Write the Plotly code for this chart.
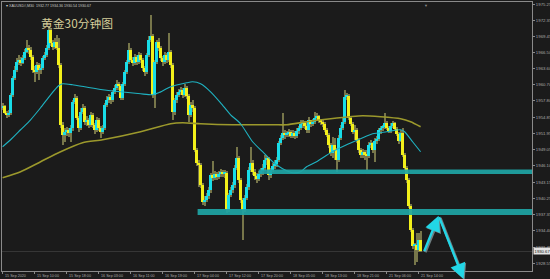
import plotly.graph_objects as go

# ---------------- data ----------------
first_open = 1956.56
closes = [
    1956.92, 1955.66, 1955.30, 1955.66, 1958.90, 1961.96, 1963.40, 1964.84, 1965.20, 1964.66,
    1965.56, 1966.64, 1967.36, 1967.00, 1965.74, 1963.40, 1963.04, 1964.30, 1963.40, 1963.76,
    1965.56, 1966.10, 1967.36, 1970.60, 1968.26, 1967.54, 1968.44, 1967.36, 1964.30, 1953.50,
    1951.70, 1952.24, 1952.60, 1952.06, 1952.96, 1957.64, 1958.36, 1954.76, 1952.96, 1955.84,
    1956.56, 1954.04, 1954.40, 1953.50, 1955.30, 1953.50, 1952.60, 1954.40, 1952.96, 1952.24,
    1952.96, 1957.10, 1958.00, 1958.54, 1958.00, 1959.44, 1960.16, 1960.88, 1960.52, 1958.36,
    1960.88, 1963.04, 1964.84, 1967.00, 1965.20, 1964.66, 1965.74, 1964.84, 1966.10, 1965.20,
    1963.76, 1963.04, 1966.10, 1968.80, 1969.52, 1958.90, 1964.84, 1968.44, 1967.36, 1965.56,
    1964.84, 1966.10, 1965.20, 1966.64, 1964.30, 1955.84, 1958.00, 1958.90, 1959.44, 1959.80,
    1958.90, 1960.16, 1958.72, 1955.30, 1957.10, 1956.56, 1949.00, 1946.66, 1946.30, 1942.70,
    1939.64, 1940.00, 1940.72, 1941.80, 1944.50, 1943.96, 1944.68, 1944.14, 1944.68, 1945.04,
    1944.68, 1944.86, 1938.38, 1940.90, 1941.80, 1942.70, 1945.76, 1947.56, 1943.60, 1940.00,
    1938.20, 1940.36, 1942.34, 1945.40, 1946.66, 1945.04, 1944.32, 1943.78, 1944.68, 1945.22,
    1945.76, 1947.20, 1947.56, 1944.50, 1945.40, 1946.12, 1946.48, 1947.20, 1950.26, 1951.16,
    1952.06, 1951.70, 1951.88, 1952.24, 1951.52, 1952.06, 1951.52, 1952.42, 1952.96, 1953.68,
    1953.86, 1953.32, 1952.60, 1954.40, 1953.68, 1954.04, 1954.76, 1955.12, 1954.22, 1954.04,
    1953.68, 1952.60, 1951.70, 1949.90, 1948.46, 1949.90, 1949.00, 1947.20, 1951.16, 1952.96,
    1954.04, 1958.54, 1958.72, 1954.76, 1953.68, 1952.24, 1952.60, 1950.80, 1949.00, 1948.10,
    1948.64, 1948.10, 1947.92, 1949.90, 1950.26, 1949.00, 1950.62, 1950.98, 1952.60, 1952.96,
    1953.14, 1953.86, 1952.96, 1952.42, 1953.32, 1953.86, 1952.78, 1951.88, 1950.62, 1952.06,
    1948.10, 1945.76, 1943.60, 1938.92, 1934.60, 1931.72, 1931.90, 1931.00, 1932.77, 1930.67,
]
highs = [
    1957.46, 1957.10, 1956.02, 1956.20, 1959.26, 1962.32, 1964.12, 1965.56, 1966.10, 1965.74,
    1966.10, 1967.18, 1968.80, 1967.90, 1967.54, 1966.10, 1964.12, 1964.84, 1964.66, 1964.48,
    1965.92, 1966.64, 1967.90, 1971.14, 1970.78, 1968.80, 1969.16, 1969.70, 1969.16, 1964.66,
    1954.04, 1952.96, 1953.14, 1952.96, 1953.50, 1958.00, 1959.08, 1958.72, 1955.12, 1956.56,
    1957.28, 1956.92, 1955.12, 1954.76, 1955.84, 1955.66, 1953.86, 1954.94, 1954.76, 1953.32,
    1953.50, 1957.46, 1958.72, 1959.08, 1958.90, 1959.80, 1960.70, 1961.60, 1961.24, 1960.88,
    1961.24, 1963.40, 1965.20, 1968.26, 1967.36, 1965.74, 1966.28, 1966.10, 1966.64, 1966.46,
    1965.56, 1964.12, 1966.46, 1969.52, 1973.30, 1969.88, 1965.20, 1968.80, 1969.16, 1967.72,
    1965.92, 1966.64, 1966.46, 1970.06, 1967.00, 1964.66, 1958.36, 1959.44, 1959.98, 1960.34,
    1960.16, 1960.88, 1960.52, 1959.08, 1957.64, 1958.00, 1956.92, 1949.36, 1947.20, 1946.66,
    1943.06, 1940.72, 1941.26, 1942.34, 1944.86, 1947.02, 1945.22, 1945.04, 1945.22, 1945.58,
    1945.40, 1945.40, 1945.22, 1941.26, 1942.34, 1943.24, 1946.30, 1949.54, 1947.92, 1943.96,
    1940.36, 1940.90, 1942.88, 1945.94, 1949.54, 1947.20, 1945.58, 1944.86, 1945.22, 1945.76,
    1946.48, 1948.10, 1947.92, 1947.74, 1945.76, 1946.66, 1947.20, 1947.74, 1950.62, 1951.70,
    1955.66, 1952.60, 1952.42, 1952.78, 1952.60, 1952.60, 1952.42, 1952.96, 1953.32, 1954.40,
    1954.40, 1954.22, 1954.04, 1954.94, 1954.40, 1954.58, 1955.84, 1955.66, 1955.30, 1954.58,
    1954.40, 1954.04, 1952.96, 1952.06, 1950.26, 1951.34, 1951.16, 1949.36, 1951.70, 1953.50,
    1954.94, 1959.80, 1959.26, 1959.08, 1955.12, 1954.04, 1953.50, 1952.96, 1951.16, 1949.36,
    1949.18, 1949.00, 1949.00, 1950.44, 1950.80, 1950.44, 1951.16, 1951.52, 1952.96, 1953.32,
    1953.50, 1955.66, 1954.22, 1953.32, 1953.86, 1954.22, 1954.04, 1953.14, 1952.24, 1952.60,
    1952.96, 1948.46, 1946.12, 1943.96, 1939.28, 1934.96, 1932.26, 1934.06, 1934.06, 1934.36,
]
lows = [
    1956.20, 1955.48, 1954.76, 1954.94, 1955.30, 1958.54, 1961.60, 1963.04, 1964.30, 1964.12,
    1964.48, 1965.20, 1966.46, 1966.28, 1965.20, 1962.86, 1961.24, 1962.68, 1961.60, 1962.68,
    1963.40, 1965.20, 1965.74, 1967.00, 1967.72, 1967.00, 1967.18, 1967.00, 1963.76, 1952.96,
    1949.90, 1950.44, 1951.52, 1951.34, 1950.44, 1952.42, 1957.28, 1954.40, 1952.24, 1952.60,
    1955.48, 1953.50, 1953.32, 1952.96, 1953.14, 1952.96, 1951.88, 1952.24, 1952.42, 1951.16,
    1951.88, 1952.60, 1956.74, 1957.46, 1957.28, 1957.64, 1959.08, 1959.80, 1959.80, 1958.00,
    1958.00, 1960.52, 1962.68, 1964.48, 1964.84, 1964.12, 1964.30, 1964.30, 1964.48, 1964.66,
    1963.22, 1962.32, 1962.68, 1965.74, 1968.44, 1958.36, 1956.56, 1964.48, 1966.82, 1965.02,
    1964.12, 1964.48, 1964.66, 1964.84, 1963.76, 1954.40, 1955.30, 1957.46, 1958.54, 1958.90,
    1958.36, 1958.54, 1958.18, 1954.04, 1954.94, 1955.84, 1948.64, 1946.12, 1942.34, 1942.16,
    1939.10, 1938.92, 1939.64, 1940.18, 1941.26, 1943.42, 1943.60, 1943.60, 1943.78, 1944.14,
    1944.14, 1943.96, 1937.66, 1937.84, 1940.54, 1941.26, 1942.16, 1945.40, 1943.06, 1939.46,
    1932.80, 1937.84, 1940.00, 1941.80, 1945.04, 1944.50, 1943.60, 1943.06, 1943.42, 1944.14,
    1944.50, 1945.22, 1946.30, 1943.60, 1943.96, 1945.04, 1945.58, 1945.94, 1946.84, 1949.90,
    1950.80, 1950.98, 1951.34, 1951.34, 1951.16, 1951.16, 1950.98, 1951.16, 1951.88, 1952.60,
    1952.96, 1952.78, 1952.06, 1952.06, 1953.14, 1953.32, 1953.68, 1954.40, 1953.86, 1953.50,
    1953.14, 1952.24, 1951.34, 1949.36, 1947.92, 1947.56, 1947.20, 1945.04, 1946.84, 1950.80,
    1952.60, 1953.68, 1958.00, 1954.40, 1953.32, 1951.88, 1950.80, 1950.26, 1948.46, 1947.56,
    1947.56, 1947.20, 1945.40, 1947.56, 1949.36, 1948.46, 1946.84, 1950.08, 1950.62, 1951.88,
    1952.42, 1952.78, 1952.60, 1952.06, 1952.06, 1952.96, 1952.42, 1951.52, 1950.08, 1950.44,
    1947.74, 1945.40, 1943.06, 1938.56, 1934.24, 1931.18, 1928.30, 1928.84, 1930.64, 1930.54,
]

# moving averages read at sample bars
ma_fast_idx = [0, 4, 9, 14, 19, 24, 28, 30, 35, 41, 50, 59, 69, 75, 78, 84, 92, 95, 99, 104,
               109, 114, 119, 125, 130, 135, 140, 145, 149, 152, 157, 164, 172, 179, 185, 192,
               199, 201, 205, 209]
ma_fast_val = [1949.54, 1950.80, 1952.60, 1954.40, 1956.56, 1958.90, 1960.52, 1960.88, 1960.70,
               1960.34, 1959.80, 1959.44, 1959.08, 1958.90, 1959.26, 1960.34, 1961.06, 1961.24,
               1960.88, 1959.44, 1957.46, 1955.30, 1953.68, 1950.44, 1948.64, 1946.84, 1945.58,
               1944.86, 1945.04, 1945.94, 1946.84, 1948.46, 1949.90, 1950.98, 1951.88, 1952.24,
               1952.60, 1952.24, 1950.44, 1948.64]
ma_slow_idx = [0, 9, 19, 29, 40, 50, 69, 84, 90, 99, 115, 136, 142, 152, 164, 180, 189, 199, 204, 209]
ma_slow_val = [1943.96, 1945.04, 1946.84, 1948.64, 1950.26, 1950.80, 1952.24, 1953.68, 1953.86,
               1953.68, 1953.50, 1953.50, 1953.50, 1954.04, 1954.58, 1955.12, 1954.94, 1954.58,
               1954.04, 1953.14]

# time axis labels (every 16 bars)
time_tick_idx = [0, 16, 32, 48, 64, 80, 96, 112, 128, 144, 160, 176, 192, 208]
time_tick_text = ["15 Sep 2020", "15 Sep 10:00", "15 Sep 18:00", "16 Sep 03:00", "16 Sep 11:00",
                  "16 Sep 19:00", "17 Sep 04:00", "17 Sep 12:00", "17 Sep 20:00", "18 Sep 05:00",
                  "18 Sep 13:00", "18 Sep 21:00", "21 Sep 06:00", "21 Sep 14:00"]
price_ticks = [1975.25, 1972.35, 1969.45, 1966.50, 1963.60, 1960.70, 1957.80, 1954.85, 1951.95,
               1949.05, 1946.10, 1943.15, 1940.25, 1937.35, 1934.40, 1931.45, 1928.55]

# drawn zones (start bar, top, bottom) and forecast arrow path (bar, price)
zones = [(128, 1945.45, 1944.65), (97.5, 1938.30, 1937.25)]
arrow_path = [(210.5, 1930.46), (218.0, 1937.12), (230.5, 1925.70)]

symbol = "XAUUSD#,M30"
title_text = "黄金30分钟图"

# ---------------- figure ----------------
W, H = 550, 279
ML, MR, MT, MB = 2, 18, 2, 8
X_RANGE = [-0.3, 264.7]
Y_RANGE = [1927.15, 1975.62]

opens = [first_open] + closes[:-1]
n = len(closes)
idx = list(range(n))

CYAN = "#18dde8"
YELLOW = "#f2f01a"
WICK = "#77764a"
BG = "#1b1b1b"
AX = "#8a8a8a"

fig = go.Figure()

# wicks (drawn first, as thin bars so the bodies sit on top of them)
fig.add_trace(go.Bar(x=idx, y=[h - l for h, l in zip(highs, lows)], base=lows, width=0.45,
                     marker=dict(color=WICK, line=dict(width=0)),
                     hoverinfo="skip", showlegend=False))

bases = [min(o, c) for o, c in zip(opens, closes)]
heights = [max(abs(c - o), 0.16) for o, c in zip(opens, closes)]
colors = [CYAN if c >= o else YELLOW for o, c in zip(opens, closes)]
fig.add_trace(go.Bar(x=idx, y=heights, base=bases, width=0.9,
                     marker=dict(color=colors, line=dict(width=0)),
                     hoverinfo="skip", showlegend=False))

fig.add_trace(go.Scatter(x=ma_slow_idx, y=ma_slow_val, mode="lines",
                         line=dict(color="#9c992c", width=1.6, shape="spline", smoothing=0.6),
                         hoverinfo="skip", showlegend=False))
fig.add_trace(go.Scatter(x=ma_fast_idx, y=ma_fast_val, mode="lines",
                         line=dict(color="#1fb3c2", width=1.1, shape="spline", smoothing=0.6),
                         hoverinfo="skip", showlegend=False))

shapes = []
# bid line
shapes.append(dict(type="line", xref="paper", x0=0, x1=1, yref="y", y0=closes[-1], y1=closes[-1],
                   line=dict(color="#383838", width=1), layer="below"))
for start, top, bot in zones:
    shapes.append(dict(type="rect", xref="x", yref="y", x0=start, x1=X_RANGE[1] + 0.5,
                       y0=bot, y1=top, fillcolor="rgba(30,165,165,0.92)", line=dict(width=0),
                       layer="above"))

annotations = []
# forecast arrows (thin shadow + cyan)
HEAD = 1.3 * 2.4
for k in range(len(arrow_path) - 1):
    (x0, y0), (x1, y1) = arrow_path[k], arrow_path[k + 1]
    for col, wdt, sh in (("#6f7f82", 3.0, 1), ("#22d6e6", 2.4, 0)):
        annotations.append(dict(x=x1, y=y1, ax=x0, ay=y0, xref="x", yref="y", axref="x", ayref="y",
                                showarrow=True, arrowhead=2, arrowsize=HEAD / wdt, arrowwidth=wdt,
                                arrowcolor=col, text="", xshift=sh, yshift=-sh, standoff=0))

# time labels, left-aligned at their bar like the terminal
for ti, tt in zip(time_tick_idx, time_tick_text):
    annotations.append(dict(x=ti, y=0, xref="x", yref="paper", text=tt, showarrow=False,
                            xanchor="left", yanchor="top", yshift=-1, xshift=0,
                            font=dict(size=3.7, color="#a8a8a8", family="Liberation Sans")))

# current price box
annotations.append(dict(x=1, y=closes[-1], xref="paper", yref="y", text=f"{closes[-1]:.2f}",
                        showarrow=False, xanchor="left", yanchor="middle", xshift=1,
                        bgcolor="#e2e2e2", borderpad=0.6,
                        font=dict(size=4.2, color="#111111", family="Liberation Sans")))

# header line
annotations.append(dict(x=0.004, y=0.999, xref="paper", yref="paper",
                        text=f"▾ {symbol}  {opens[-1]:.2f} {highs[-1]:.2f} {lows[-1]:.2f} {closes[-1]:.2f}",
                        showarrow=False, xanchor="left", yanchor="top",
                        font=dict(size=3.6, color="#c8c8c8", family="Liberation Sans")))
# shift marker
annotations.append(dict(x=211.5, y=1, xref="x", yref="paper", text="▼", showarrow=False,
                        xanchor="center", yanchor="top", yshift=1,
                        font=dict(size=4, color="#8a8a8a")))
# title
annotations.append(dict(x=(39 - ML) / (W - ML - MR), y=1 - (22.5 - MT) / (H - MT - MB),
                        xref="paper", yref="paper", text=title_text, showarrow=False,
                        xanchor="left", yanchor="middle",
                        font=dict(size=11.8, color="#d6ce9a", family="Noto Sans CJK SC")))

fig.update_layout(
    width=W, height=H, margin=dict(l=ML, r=MR, t=MT, b=MB, pad=0),
    paper_bgcolor=BG, plot_bgcolor=BG, showlegend=False, barmode="overlay",
    shapes=shapes, annotations=annotations, bargap=0,
    xaxis=dict(range=X_RANGE, showgrid=False, zeroline=False, showline=True, mirror=True,
               linecolor=AX, linewidth=1, tickvals=time_tick_idx, ticks="outside", ticklen=2,
               tickcolor=AX, showticklabels=False, automargin=False, fixedrange=True),
    yaxis=dict(range=Y_RANGE, side="right", showgrid=False, zeroline=False, showline=True,
               mirror=True, linecolor=AX, linewidth=1, tickvals=price_ticks,
               ticktext=[f"{v:.2f}" for v in price_ticks], ticks="outside", ticklen=2,
               tickcolor=AX, tickfont=dict(size=4.3, color="#a8a8a8", family="Liberation Sans"),
               automargin=False, fixedrange=True),
)

fig.write_html("out.html", config={"displayModeBar": False})
